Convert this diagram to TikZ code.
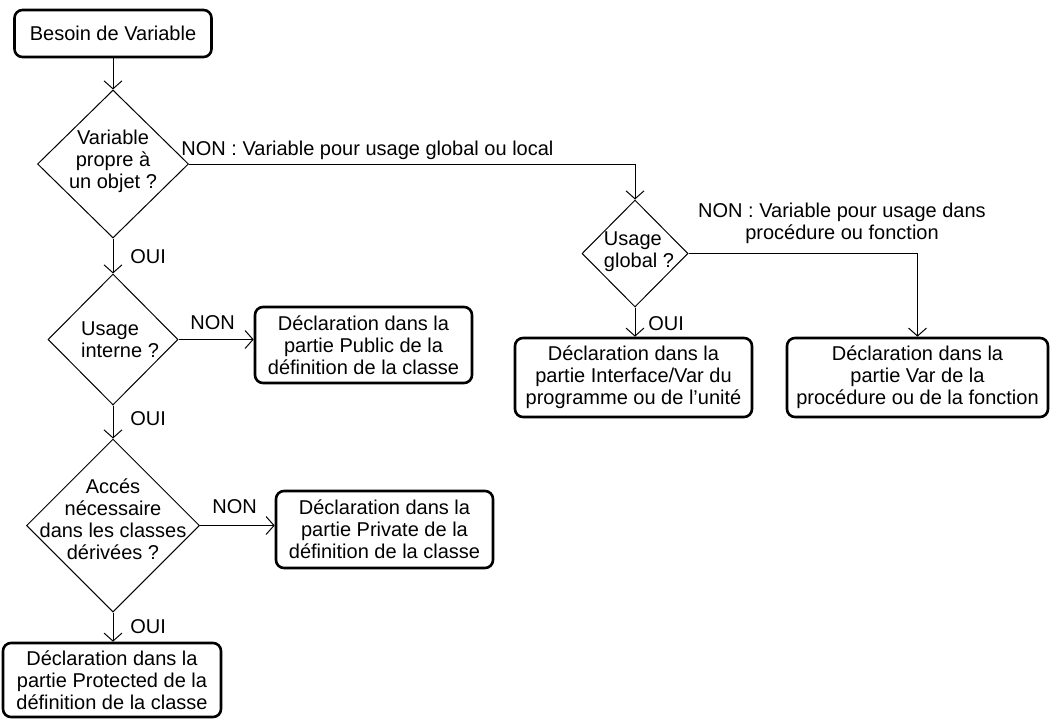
\documentclass[tikz,border=0pt]{standalone}
\usepackage{fontspec}
\setmainfont{Liberation Sans}
\usetikzlibrary{shapes.geometric,arrows.meta,positioning}
\tikzset{
  box/.style={draw, line width=1.3pt, rounded corners=4pt, inner sep=0pt, align=center},
  decision/.style={draw, diamond, line width=0.5pt, inner sep=0pt},
  dtext/.style={inner sep=0pt, align=center},
  lbl/.style={inner sep=0pt},
  arr/.style={line width=0.5pt, -{Straight Barb[length=4pt,width=9pt]}},
}

\begin{document}
\begin{tikzpicture}[x=0.5pt, y=-0.5pt, font=\fontsize{10}{11}\selectfont]
    \useasboundingbox (0,0) rectangle (1050,718);

    \node[box, minimum width=98.5pt, minimum height=23.5pt] (start) at (113,33.5) {Besoin de Variable};

    \node[decision, minimum width=75.5pt, minimum height=74pt] (d1) at (113,164) {};
    \node[dtext] (d1t) at (113,161) {Variable\\propre à\\un objet ?};
    \node[decision, minimum width=65pt, minimum height=65.5pt] (d2) at (113,339.5) {};
    \node[dtext, align=left] (d2t) at (120,340) {Usage\\interne ?};
    \node[decision, minimum width=86.5pt, minimum height=86.5pt] (d3) at (113,525.5) {};
    \node[dtext] (d3t) at (113,519) {Accés\\nécessaire\\dans les classes\\dérivées ?};
    \node[decision, minimum width=53pt, minimum height=53.5pt] (d4) at (635,253.5) {};
    \node[dtext, align=left] (d4t) at (639,252) {Usage\\global ?};

    \node[box, minimum width=108.5pt, minimum height=38pt] (pub) at (363.5,345) {Déclaration dans la\\partie Public de la\\définition de la classe};
    \node[box, minimum width=108.5pt, minimum height=38.5pt] (priv) at (384.5,529.5) {Déclaration dans la\\partie Private de la\\définition de la classe};
    \node[box, minimum width=109pt, minimum height=37pt] (prot) at (112,680) {Déclaration dans la\\partie Protected de la\\définition de la classe};
    \node[box, minimum width=118.5pt, minimum height=39.5pt] (iface) at (633.5,377.5) {Déclaration dans la\\partie Interface/Var du\\programme ou de l'unité};
    \node[box, minimum width=130.5pt, minimum height=39.5pt] (var) at (917.5,377.5) {Déclaration dans la\\partie Var de la\\procédure ou de la fonction};

    \draw[arr] (start) -- (d1);
    \draw[arr] (d1) -- (d2);
    \draw[arr] (d2) -- (d3);
    \draw[arr] (d3.south) -- (d3.south |- prot.north);
    \draw[arr] (d2.east) -- (d2.east -| pub.west);
    \draw[arr] (d3.east) -- (d3.east -| priv.west);
    \draw[arr] (d1.east) -| (d4.north);
    \draw[arr] (d4.south) -- (d4.south |- iface.north);
    \draw[arr] (d4.east) -| (var.north);

    \node[lbl, anchor=base west] (l1) at (181,155) {NON : Variable pour usage global ou local};
    \node[lbl, anchor=base west] (l2) at (130,263) {OUI};
    \node[lbl, anchor=base west] (l3) at (190,329) {NON};
    \node[lbl, anchor=base west] (l4) at (130,425) {OUI};
    \node[lbl, anchor=base west] (l5) at (212,513) {NON};
    \node[lbl, anchor=base west] (l6) at (130,633) {OUI};
    \node[lbl, anchor=base west] (l7) at (648,330) {OUI};
    \node[lbl, align=center] (l8) at (842,223) {NON : Variable pour usage dans\\procédure ou fonction};
\end{tikzpicture}
\end{document}
